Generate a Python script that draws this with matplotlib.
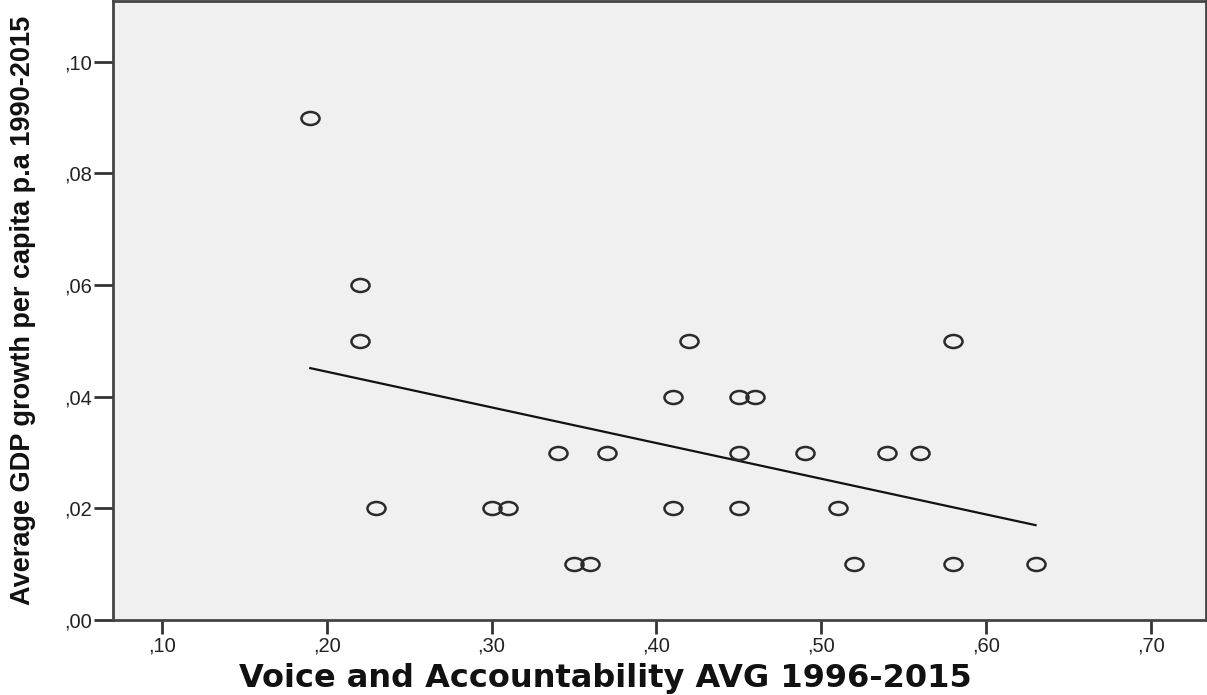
import matplotlib
matplotlib.use("Agg")
import matplotlib.pyplot as plt
from matplotlib.path import Path
import numpy as np

# Voice and Accountability AVG 1996-2015 vs average GDP growth per capita
voice = [0.19, 0.22, 0.22, 0.23, 0.30, 0.31, 0.34, 0.35, 0.36, 0.37,
         0.41, 0.41, 0.42, 0.45, 0.46, 0.45, 0.45, 0.49, 0.51, 0.52,
         0.54, 0.56, 0.58, 0.58, 0.63]
gdp = [0.09, 0.06, 0.05, 0.02, 0.02, 0.02, 0.03, 0.01, 0.01, 0.03,
       0.04, 0.02, 0.05, 0.04, 0.04, 0.03, 0.02, 0.03, 0.02, 0.01,
       0.03, 0.03, 0.05, 0.01, 0.01]

xticks = [0.10, 0.20, 0.30, 0.40, 0.50, 0.60, 0.70]
yticks = [0.00, 0.02, 0.04, 0.06, 0.08, 0.10]

plt.rcParams['font.family'] = ['Liberation Sans', 'DejaVu Sans']

fig = plt.figure(figsize=(12.07, 6.95), dpi=100)
ax = fig.add_axes([0.0936, 0.108, 0.9054, 0.8905])
ax.set_facecolor("#f0f0f0")

# slightly flattened circle, like the spss markers
uc = Path.unit_circle()
ell = Path(uc.vertices * np.array([1.0, 0.72]), uc.codes)

x = np.array(voice)
y = np.array(gdp)
ax.plot(x, y, linestyle="none", marker=ell, markersize=13,
        markerfacecolor="none", markeredgecolor="#2a2a2a",
        markeredgewidth=1.8, zorder=3)

# linear fit line, drawn over the data range
slope, icpt = np.polyfit(x, y, 1)
xs = np.array([x.min(), x.max()])
ax.plot(xs, slope * xs + icpt, color="#111111", linewidth=1.6, zorder=2)

ax.set_xlim(0.0703, 0.7333)
ax.set_ylim(0.0, 0.1109)
ax.set_xticks(xticks)
ax.set_yticks(yticks)
ax.set_xticklabels(["," + f"{t:.2f}".split(".")[1] for t in xticks])
ax.set_yticklabels(["," + f"{t:.2f}".split(".")[1] for t in yticks])
ax.tick_params(direction="out", width=2, color="#333333",
               labelsize=14.5, labelcolor="#222222")
ax.tick_params(axis="x", length=10, pad=2)
ax.tick_params(axis="y", length=14, pad=1)

for s in ax.spines.values():
    s.set_linewidth(2)
    s.set_color("#444444")

ax.set_xlabel("Voice and Accountability AVG 1996-2015", fontsize=23,
              fontweight="bold", color="#111111", family=['DejaVu Sans'])
ax.xaxis.set_label_coords(0.451, -0.07)
ax.set_ylabel("Average GDP growth per capita p.a 1990-2015", fontsize=19.5,
              fontweight="bold", labelpad=20, color="#111111")

fig.savefig("out.png", dpi=100)
